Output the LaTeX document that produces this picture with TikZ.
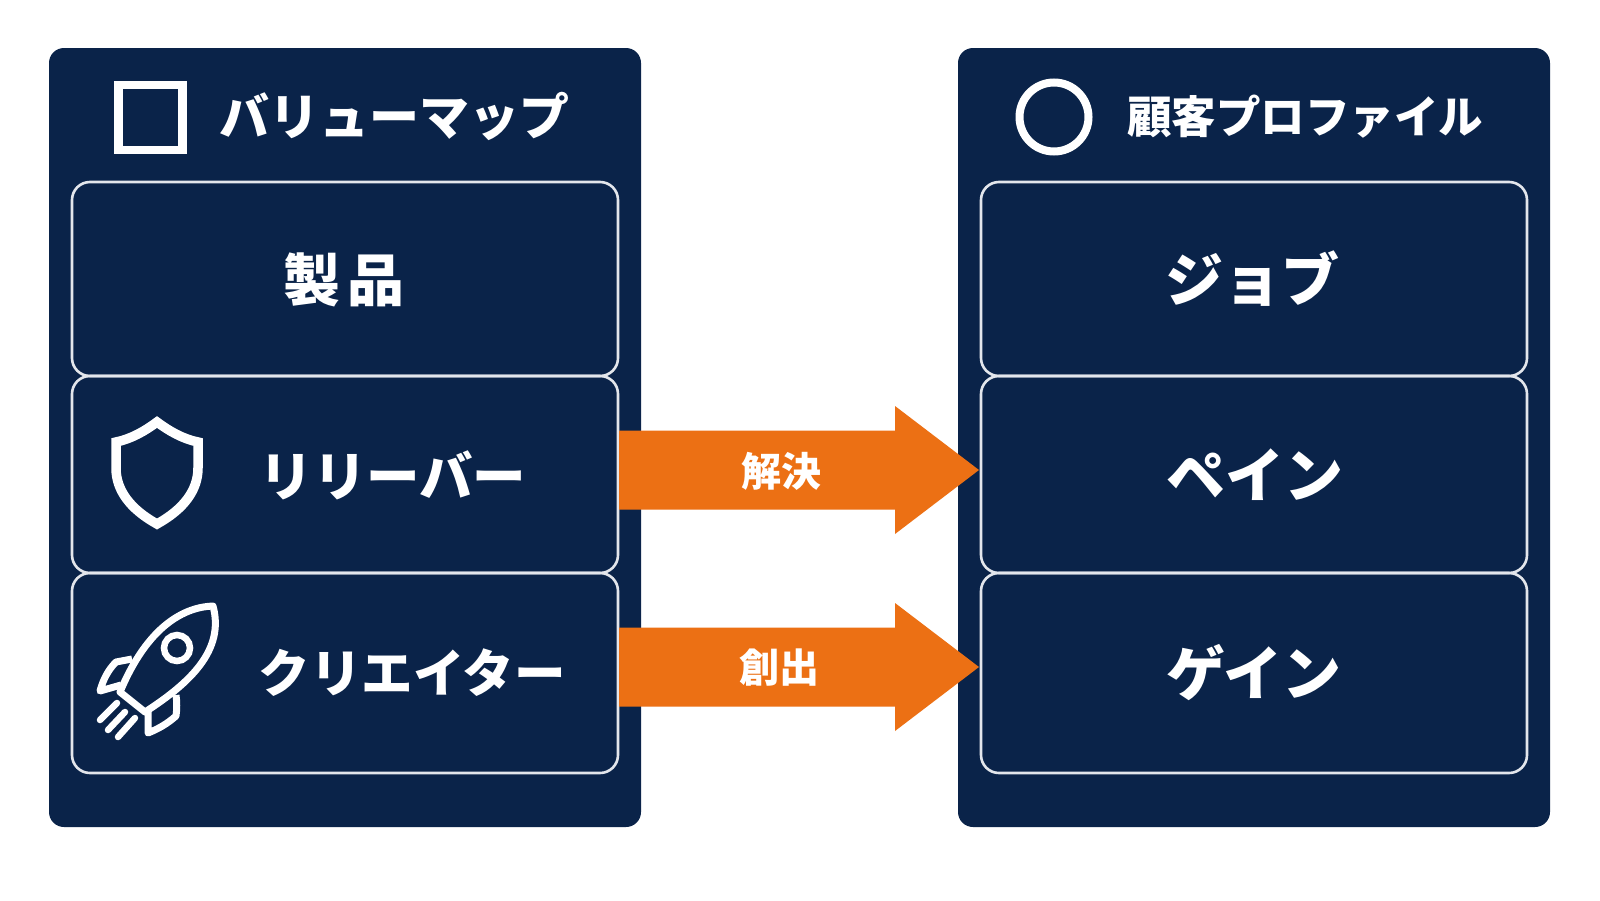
\documentclass[tikz,border=0pt]{standalone}
\usepackage{fontspec}
\usetikzlibrary{calc}
\setmainfont{Noto Sans CJK JP}[BoldFont={* Black}]
\definecolor{navy}{HTML}{0A2349}
\definecolor{boxline}{HTML}{E3E6EC}
\definecolor{flow}{HTML}{EC7014}
\tikzset{
  panel/.style={fill=navy,draw=none,rounded corners=15pt,minimum width=592pt,inner sep=0pt},
  cell/.style={draw=boxline,line width=2.6pt,rounded corners=18pt,minimum width=546pt,inner sep=0pt},
  lbl/.style={text=white,inner sep=0pt,font=\fontsize{#1}{#1}\bfseries},
  lbl/.default=52pt,
  icon/.style={draw=white,line width=#1,line join=miter},
  icon/.default=9pt,
  flowarrow/.style={fill=flow,draw=none}
}
\newcommand{\blockarrow}[2]{%
  \fill[flowarrow] ($(#1)+(0,-39.5)$) -- ($(#2)+(-84,-39.5)$) -- ($(#2)+(-84,-64)$) -- (#2)
    -- ($(#2)+(-84,64)$) -- ($(#2)+(-84,39.5)$) -- ($(#1)+(0,39.5)$) -- cycle;}
\begin{document}
\begin{tikzpicture}[x=1pt,y=-1pt]
\useasboundingbox[fill=white] (0,0) rectangle (1600,900);
% panels
\node[panel,minimum height=779pt] (vm) at (345,437.5) {};
\node[panel,minimum height=779pt] (cp) at (1254,437.5) {};
% cells
\node[cell,minimum height=194pt] (prod) at (345,279) {};
\node[cell,minimum height=197pt] (rel) at (345,474.5) {};
\node[cell,minimum height=200pt] (cre) at (345,673) {};
\node[cell,minimum height=194pt] (job) at (1254,279) {};
\node[cell,minimum height=197pt] (pain) at (1254,474.5) {};
\node[cell,minimum height=200pt] (gain) at (1254,673) {};
% titles
\node[icon=8.5pt,minimum width=64pt,minimum height=65pt,inner sep=0pt] (sq) at (150.5,117.5) {};
\node[icon=8pt,circle,minimum size=69pt,inner sep=0pt] (ci) at (1054,117) {};
\node[lbl=50pt] (t1) at (394,116) {バリューマップ};
\node[lbl=44.5pt] (t2) at (1305,117) {顧客プロファイル};
% cell labels
\node[lbl=57pt] (l1) at (344,280) {\addfontfeature{LetterSpace=12}製品};
\node[lbl=53.5pt] (l2) at (393,475) {リリーバー};
\node[lbl=51.5pt] (l3) at (412,673) {クリエイター};
\node[lbl=58pt] (r1) at (1252,279) {ジョブ};
\node[lbl=59pt] (r2) at (1255,475) {ペイン};
\node[lbl=59pt] (r3) at (1254,673) {ゲイン};
% shield
\draw[icon=9.5pt] (157,422) .. controls (145,431) and (131,439) .. (116,442)
  -- (116,468) .. controls (116,490) and (130,509) .. (157,524)
  .. controls (184,509) and (198,490) .. (198,468) -- (198,442)
  .. controls (183,439) and (169,431) .. (157,422) -- cycle;
% rocket
\draw[icon=7pt,line join=round] (213,606) .. controls (185,607) and (148,625) .. (120,692)
  -- (145,712) .. controls (190,683) and (225,650) .. (213,606) -- cycle;
\node[icon=6.5pt,circle,minimum size=26pt,inner sep=0pt] (win) at (177,648) {};
\draw[icon=7pt,line join=round] (132,659) -- (116,662) .. controls (108,670) and (103,680) .. (100,691) -- (121,685);
\draw[icon=7pt,line join=round] (176,695) .. controls (177,702) and (177,709) .. (176,716) .. controls (167,724) and (158,729) .. (148,733) -- (148,710);
\draw[icon=6.5pt,line cap=round] (100,720) -- (117,703) (108,730) -- (125,712) (118,737) -- (135,718);
% arrows
\coordinate (a1s) at (619,470);
\coordinate (a1e) at (979,470);
\coordinate (a2s) at (619,667);
\coordinate (a2e) at (979,667);
\blockarrow{a1s}{a1e}
\blockarrow{a2s}{a2e}
\node[lbl=40pt] (m1) at (781,471) {解決};
\node[lbl=40pt] (m2) at (779,668) {創出};
\end{tikzpicture}
\end{document}
